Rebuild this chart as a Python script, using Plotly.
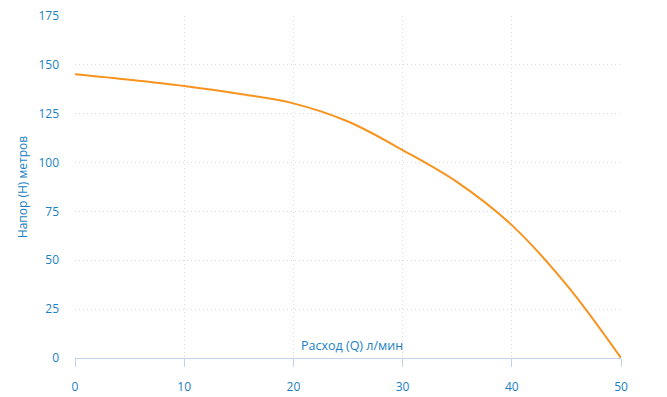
import plotly.graph_objects as go

flow = [0, 5, 10, 15, 20, 25, 30, 35, 40, 45, 50]
head = [145.2, 142.4, 139.2, 135.2, 130.3, 121, 106.4, 90, 68, 37.5, 0]

blue = "#1a7fc4"
grid = "#dcdcdc"
fig = go.Figure(go.Scatter(x=flow, y=head, mode="lines",
                           line=dict(color="#f7931e", width=2, shape="spline", smoothing=1.0),
                           hoverinfo="skip"))
fig.update_layout(
    width=667, height=397,
    margin=dict(l=75, r=46, t=16, b=39),
    paper_bgcolor="white", plot_bgcolor="white",
    showlegend=False,
    font=dict(family="Open Sans", size=12, color=blue),
    xaxis=dict(range=[0, 50], tickvals=[0, 10, 20, 30, 40, 50], showgrid=True,
               gridcolor=grid, griddash="1px,3px", gridwidth=1,
               showline=True, linecolor="#c3d2e8", linewidth=1,
               ticks="outside", ticklen=8, tickcolor="#c3d2e8",
               ticklabelstandoff=10, zeroline=False, automargin=False,
               tickfont=dict(color=blue, size=12)),
    yaxis=dict(range=[0, 175], tickvals=[0, 25, 50, 75, 100, 125, 150, 175], showgrid=True,
               gridcolor=grid, griddash="1px,3px", gridwidth=1,
               showline=False, zeroline=False, ticks="",
               ticklabelstandoff=15, automargin=False,
               title=dict(text="Напор (H) метров", font=dict(color=blue, size=12), standoff=8),
               tickfont=dict(color=blue, size=12)),
    annotations=[dict(text="Расход (Q) л/мин", xref="paper", yref="paper", x=0.507, y=0,
                      xanchor="center", yanchor="bottom", yshift=2, showarrow=False,
                      font=dict(color=blue, size=12.5))],
)
fig.write_html("out.html")
